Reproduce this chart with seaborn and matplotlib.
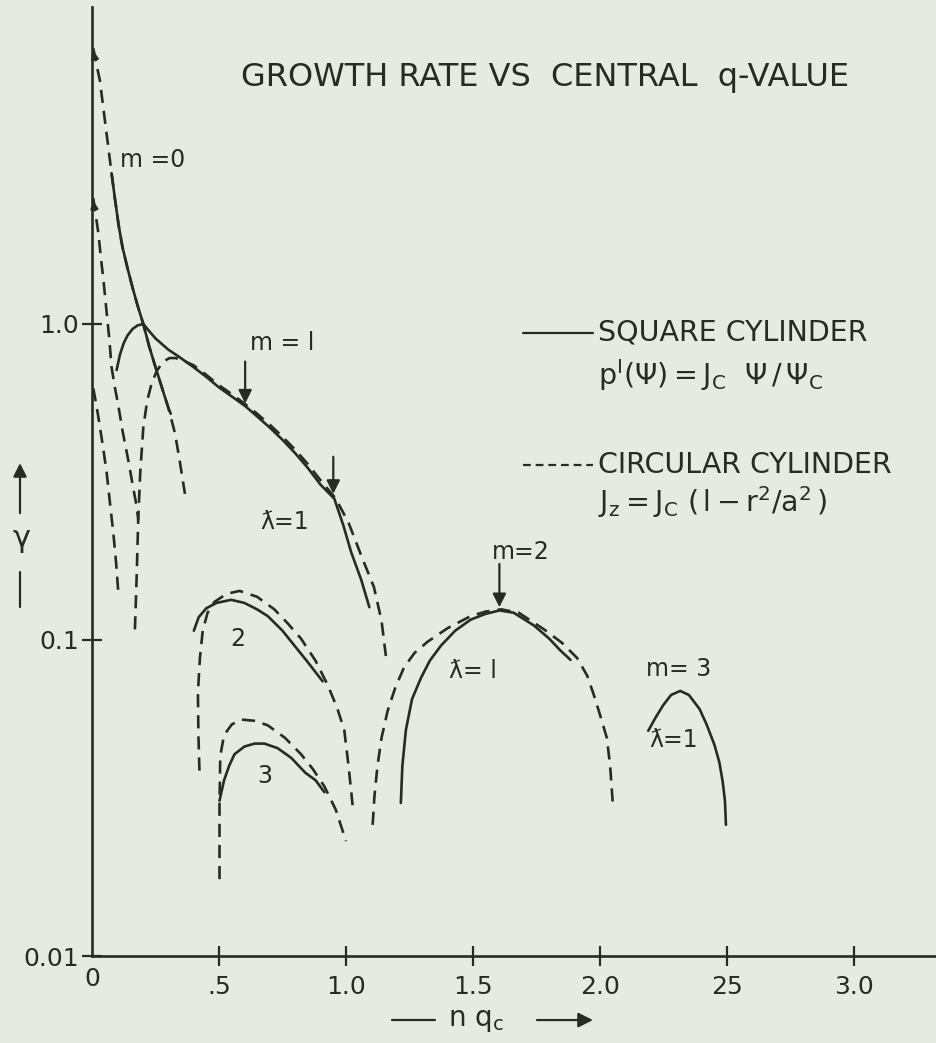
import matplotlib
matplotlib.use("Agg")
import matplotlib.pyplot as plt
import seaborn as sns
from matplotlib.lines import Line2D

# ---- growth-rate curves: gamma vs n*q_c (log scale) ----
# m = 0, circular cylinder (dashed), runs off the top near the axis
m0_circ_x = [0.005, 0.018, 0.031, 0.045, 0.060, 0.077, 0.090, 0.105, 0.120, 0.140, 0.160,
             0.180, 0.202, 0.225, 0.250, 0.275, 0.300, 0.327, 0.345, 0.366]
m0_circ_y = [7.45, 6.6, 5.9, 4.8, 3.85, 3.0, 2.5, 2.05, 1.75, 1.5, 1.3,
             1.14, 1.0, 0.85, 0.73, 0.63, 0.545, 0.45, 0.37, 0.29]
# m = 0, square cylinder (solid)
m0_sq_x = [0.077, 0.090, 0.105, 0.120, 0.140, 0.160, 0.180, 0.202, 0.225, 0.250, 0.275, 0.300, 0.310]
m0_sq_y = [3.0, 2.5, 2.05, 1.75, 1.5, 1.3, 1.14, 1.0, 0.85, 0.73, 0.63, 0.545, 0.52]
# further circular branches near the origin
b2_circ_x = [0.005, 0.015, 0.025, 0.035, 0.045, 0.058, 0.068, 0.077, 0.090, 0.104, 0.120,
             0.143, 0.160, 0.176, 0.182]
b2_circ_y = [2.5, 2.2, 1.94, 1.62, 1.38, 1.08, 0.90, 0.73, 0.63, 0.55, 0.46,
             0.37, 0.31, 0.264, 0.24]
b3_circ_x = [0.005, 0.018, 0.031, 0.045, 0.058, 0.071, 0.084, 0.095, 0.104]
b3_circ_y = [0.626, 0.55, 0.473, 0.40, 0.337, 0.27, 0.218, 0.175, 0.14]

# m = 1, lambda = 1
m1_sq_x = [0.097, 0.110, 0.125, 0.140, 0.160, 0.180, 0.202, 0.220, 0.250, 0.300, 0.340, 0.400,
           0.450, 0.500, 0.550, 0.603, 0.650, 0.700, 0.750, 0.800, 0.850, 0.900, 0.954, 0.990,
           1.020, 1.060, 1.092]
m1_sq_y = [0.715, 0.80, 0.87, 0.92, 0.965, 0.99, 1.0, 0.96, 0.90, 0.83, 0.79, 0.73,
           0.68, 0.63, 0.59, 0.55, 0.51, 0.47, 0.43, 0.39, 0.35, 0.31, 0.28, 0.23,
           0.19, 0.155, 0.127]
m1_circ_x = [0.169, 0.176, 0.182, 0.190, 0.202, 0.217, 0.235, 0.255, 0.280, 0.305, 0.330, 0.360,
             0.400, 0.450, 0.500, 0.550, 0.600, 0.650, 0.700, 0.750, 0.800, 0.850, 0.900,
             0.960, 1.010, 1.060, 1.110, 1.140, 1.157]
m1_circ_y = [0.108, 0.16, 0.24, 0.34, 0.47, 0.57, 0.65, 0.71, 0.76, 0.78, 0.78, 0.765,
             0.74, 0.69, 0.64, 0.60, 0.56, 0.52, 0.48, 0.44, 0.40, 0.36, 0.32,
             0.28, 0.235, 0.185, 0.147, 0.115, 0.089]

# m = 1, lambda = 2
l2_sq_x = [0.401, 0.420, 0.450, 0.490, 0.548, 0.600, 0.650, 0.692, 0.750, 0.797, 0.850, 0.908]
l2_sq_y = [0.107, 0.118, 0.126, 0.131, 0.134, 0.131, 0.125, 0.119, 0.107, 0.096, 0.085, 0.074]
l2_circ_x = [0.423, 0.419, 0.417, 0.425, 0.436, 0.455, 0.482, 0.530, 0.581, 0.650, 0.718, 0.770,
             0.823, 0.880, 0.928, 0.965, 0.993, 1.010, 1.026]
l2_circ_y = [0.0386, 0.05, 0.068, 0.088, 0.107, 0.122, 0.132, 0.140, 0.143, 0.137, 0.125, 0.113,
             0.101, 0.086, 0.072, 0.061, 0.052, 0.040, 0.030]

# m = 1, lambda = 3
l3_sq_x = [0.502, 0.520, 0.540, 0.561, 0.600, 0.640, 0.679, 0.730, 0.784, 0.840, 0.880, 0.915]
l3_sq_y = [0.031, 0.036, 0.040, 0.0435, 0.046, 0.047, 0.047, 0.0455, 0.0424, 0.038, 0.036, 0.033]
l3_circ_x = [0.502, 0.502, 0.505, 0.520, 0.550, 0.587, 0.640, 0.692, 0.760, 0.823, 0.870, 0.915,
             0.960, 1.000]
l3_circ_y = [0.0175, 0.030, 0.043, 0.050, 0.054, 0.056, 0.0555, 0.0537, 0.049, 0.0435, 0.039,
             0.0344, 0.029, 0.0231]

# m = 2, lambda = 1
m2_sq_x = [1.216, 1.222, 1.236, 1.260, 1.295, 1.330, 1.374, 1.430, 1.491, 1.550, 1.604, 1.660,
           1.741, 1.800, 1.845, 1.884]
m2_sq_y = [0.0305, 0.040, 0.052, 0.065, 0.0758, 0.086, 0.096, 0.107, 0.116, 0.121, 0.124, 0.122,
           0.111, 0.101, 0.0925, 0.0865]
m2_circ_x = [1.105, 1.112, 1.124, 1.140, 1.164, 1.195, 1.229, 1.270, 1.321, 1.400, 1.491, 1.550,
             1.611, 1.680, 1.780, 1.850, 1.910, 1.950, 1.975, 2.000, 2.027, 2.040, 2.051]
m2_circ_y = [0.026, 0.032, 0.040, 0.049, 0.0597, 0.071, 0.082, 0.091, 0.0987, 0.109, 0.119, 0.123,
             0.125, 0.122, 0.108, 0.098, 0.0877, 0.077, 0.0673, 0.058, 0.049, 0.040, 0.030]

# m = 3, lambda = 1 (square only)
m3_sq_x = [2.190, 2.220, 2.249, 2.280, 2.316, 2.350, 2.392, 2.420, 2.451, 2.470, 2.483, 2.492, 2.496]
m3_sq_y = [0.0516, 0.057, 0.0622, 0.067, 0.069, 0.067, 0.0605, 0.054, 0.0465, 0.041, 0.0357,
           0.031, 0.026]

# axis ticks
x_ticks = [0.5, 1.0, 1.5, 2.0, 2.5, 3.0]
x_tick_labels = [".5", "1.0", "1.5", "2.0", "25", "3.0"]
y_ticks = [0.01, 0.1, 1.0]
y_tick_labels = ["0.01", "0.1", "1.0"]

# curve annotations: (text, x, y)
curve_labels = [
    ("m =0", 0.237, 3.3),
    ("m = l", 0.75, 0.87),
    ("ƛ=1", 0.76, 0.236),
    ("2", 0.574, 0.101),
    ("3", 0.679, 0.037),
    ("m=2", 1.69, 0.19),
    ("ƛ= l", 1.50, 0.080),
    ("m= 3", 2.31, 0.081),
    ("ƛ=1", 2.29, 0.0484),
]
# marker arrows pointing down onto curves: (x, y_from, y_to)
pointer_arrows = [(0.603, 0.76, 0.56), (0.95, 0.38, 0.29), (1.604, 0.174, 0.127)]

# ---- styling ----
PAPER = "#e7eae0"
INK = "#262b24"
LW = 1.9
DASH = (0, (5, 3))

sns.set_style("ticks")
plt.rcParams["font.family"] = ["DejaVu Sans"]
plt.rcParams["mathtext.fontset"] = "dejavusans"

fig = plt.figure(figsize=(9.36, 10.43), dpi=100, facecolor=PAPER)
ax = fig.add_axes([92 / 936, 87 / 1043, 844 / 936, 949 / 1043])
ax.set_facecolor(PAPER)
ax.set_yscale("log")
ax.set_xlim(0, 3.323)
ax.set_ylim(0.01, 10.07)

solid_sets = [(m0_sq_x, m0_sq_y), (m1_sq_x, m1_sq_y), (l2_sq_x, l2_sq_y),
              (l3_sq_x, l3_sq_y), (m2_sq_x, m2_sq_y), (m3_sq_x, m3_sq_y)]
dashed_sets = [(m0_circ_x, m0_circ_y), (b2_circ_x, b2_circ_y), (b3_circ_x, b3_circ_y),
               (m1_circ_x, m1_circ_y), (l2_circ_x, l2_circ_y), (l3_circ_x, l3_circ_y),
               (m2_circ_x, m2_circ_y)]

for xs, ys in dashed_sets:
    sns.lineplot(x=xs, y=ys, ax=ax, sort=False, estimator=None, color=INK,
                 lw=LW, linestyle=DASH, legend=False)
for xs, ys in solid_sets:
    sns.lineplot(x=xs, y=ys, ax=ax, sort=False, estimator=None, color=INK,
                 lw=LW, linestyle="-", legend=False)

# arrowheads where the circular m=0 branches leave the frame
for xs, ys in [(m0_circ_x, m0_circ_y), (b2_circ_x, b2_circ_y)]:
    ax.annotate("", xy=(xs[0], ys[0]), xytext=(xs[1] * 0.6, ys[0] * 0.93),
                arrowprops=dict(arrowstyle="-|>", color=INK, lw=1.2, mutation_scale=12))

for x, y0, y1 in pointer_arrows:
    ax.annotate("", xy=(x, y1), xytext=(x, y0),
                arrowprops=dict(arrowstyle="-|>", color=INK, lw=1.6,
                                mutation_scale=20, shrinkA=0, shrinkB=0))

for text, x, y in curve_labels:
    ax.text(x, y, text, ha="center", va="center", fontsize=17, color=INK)

# axes
for side in ("top", "right"):
    ax.spines[side].set_visible(False)
for side in ("left", "bottom"):
    ax.spines[side].set_color(INK)
    ax.spines[side].set_linewidth(1.9)
ax.set_xticks(x_ticks)
ax.set_xticklabels(x_tick_labels)
ax.set_yticks(y_ticks)
ax.set_yticklabels(y_tick_labels)
ax.minorticks_off()
ax.tick_params(axis="both", direction="inout", length=15, width=1.6, colors=INK,
               labelsize=18, labelcolor=INK)
ax.tick_params(axis="x", pad=6)
ax.tick_params(axis="y", pad=2)
ax.text(0, -0.012, "0", transform=ax.transAxes, ha="center", va="top",
        fontsize=18, color=INK)

# title
ax.text(0.537, 0.926, "GROWTH RATE VS  CENTRAL  q-VALUE", transform=ax.transAxes,
        ha="center", va="center", fontsize=23, color=INK)

# key
KEY_FS = 20.5
ax.add_line(Line2D([0.511, 0.594], [0.6565, 0.6565], transform=ax.transAxes,
                   color=INK, lw=1.6))
ax.text(0.5995, 0.6565, "SQUARE CYLINDER", transform=ax.transAxes,
        ha="left", va="center", fontsize=KEY_FS, color=INK)
ax.text(0.600, 0.612, r"$\mathregular{p^{I}(\Psi) = J_C\ \ \Psi\,/\,\Psi_C}$",
        transform=ax.transAxes, ha="left", va="center", fontsize=KEY_FS, color=INK)
ax.add_line(Line2D([0.511, 0.594], [0.517, 0.517], transform=ax.transAxes,
                   color=INK, lw=1.6, linestyle=(0, (3.5, 2.2))))
ax.text(0.5995, 0.517, "CIRCULAR CYLINDER", transform=ax.transAxes,
        ha="left", va="center", fontsize=KEY_FS, color=INK)
ax.text(0.600, 0.478, r"$\mathregular{J_z = J_C\ (\,l - r^2/a^2\,)}$",
        transform=ax.transAxes, ha="left", va="center", fontsize=KEY_FS, color=INK)

# axis captions with arrows
fig.add_artist(Line2D([392 / 936, 435 / 936], [0.022, 0.022], transform=fig.transFigure,
                      color=INK, lw=1.6))
fig.text(448 / 936, 0.022, r"n q$_\mathregular{c}$", ha="left", va="center",
         fontsize=20, color=INK)
ax.annotate("", xy=(593 / 936, 0.022), xytext=(537 / 936, 0.022),
            xycoords="figure fraction", textcoords="figure fraction",
            arrowprops=dict(arrowstyle="-|>", color=INK, lw=1.6, mutation_scale=22,
                            shrinkA=0, shrinkB=0), annotation_clip=False)

ax.annotate("", xy=(20 / 936, 0.556), xytext=(20 / 936, 0.508),
            xycoords="figure fraction", textcoords="figure fraction",
            arrowprops=dict(arrowstyle="-|>", color=INK, lw=1.6, mutation_scale=20,
                            shrinkA=0, shrinkB=0), annotation_clip=False)
fig.text(22 / 936, 0.484, "γ", ha="center", va="center", fontsize=22, color=INK)
fig.add_artist(Line2D([20 / 936, 20 / 936], [0.418, 0.4516], transform=fig.transFigure,
                      color=INK, lw=1.6))

fig.savefig("out.png", dpi=100, facecolor=PAPER)
